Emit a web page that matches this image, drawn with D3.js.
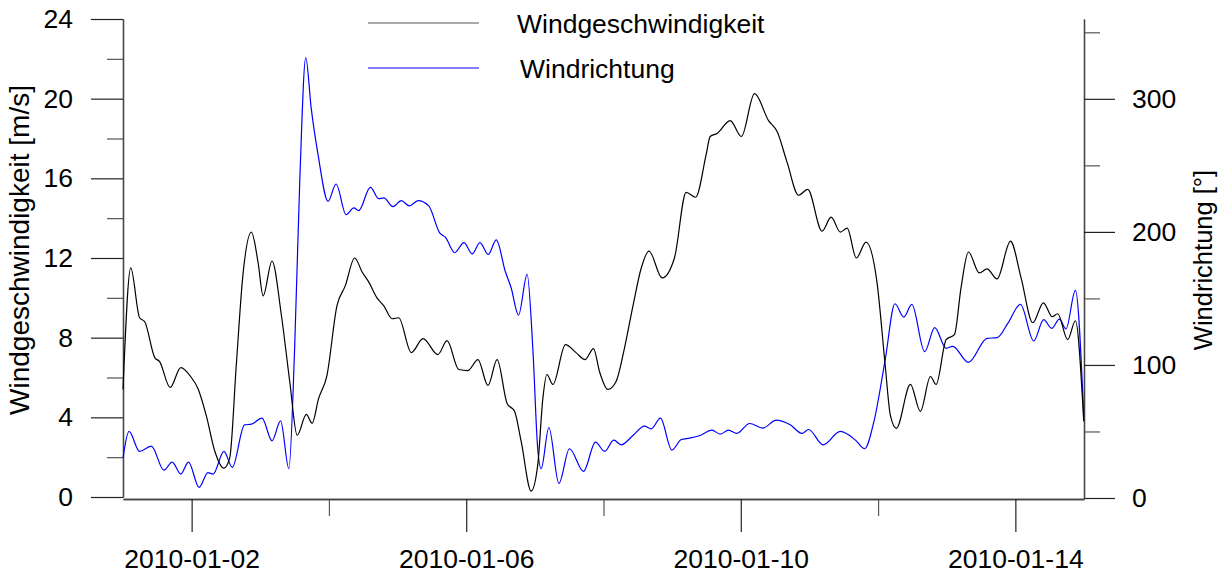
<!DOCTYPE html>
<html lang="de">
<head>
<meta charset="utf-8">
<title>Wind</title>
<script src="https://d3js.org/d3.v7.min.js"></script>
<style>
  body { margin: 0; background: #fff; }
  text { font-family: "Liberation Sans", Arial, sans-serif; fill: #000; }
</style>
</head>
<body>
<div id="chart"></div>
<script>

// hours after 2010-01-01 00:00 and the values
var speedHours = [0, 2.7, 5.8, 7.6, 11.1, 12.8, 16.5, 20.2, 23.9, 26.2, 29.1, 32.1, 35.3, 37.3, 39.6, 41.9, 44.9, 47.2, 49.0, 52.1,
  55.4, 58.3, 60.9, 64.1, 66.1, 68.4, 71.3, 74.8, 77.7, 81.0, 83.6, 85.9, 88.8, 91.2, 94.1, 96.4, 100.8, 104.9, 110.1, 113.3,
  117.4, 120.6, 124.1, 127.6, 130.8, 134.3, 136.9, 139.2, 142.7, 145.0, 146.8, 148.2, 150.3, 154.7, 158.4, 161.6, 164.5, 166.6, 169.5, 172.4,
  175.3, 178.3, 181.2, 183.9, 188.5, 192.8, 196.9, 200.2, 203.9, 205.3, 207.7, 212.3, 216.2, 220.8, 225.7, 228.7, 232.2, 236.2, 239.4, 244.4,
  247.6, 250.8, 253.2, 256.4, 259.8, 263.6, 266.5, 268.3, 270.4, 275.3, 278.8, 282.3, 284.3, 287.8, 290.7, 293.0, 295.6, 299.4, 302.1, 305.6,
  310.3, 314.0, 318.1, 321.8, 324.9, 326.8, 330.3, 333.0, 335.9];
var speedValues = [5.4, 11.5, 9.0, 8.8, 7.0, 6.8, 5.5, 6.5, 6.0, 5.45, 4.1, 2.3, 1.45, 1.95, 6.6, 11.1, 13.3, 11.8, 10.1, 11.85,
  9.1, 5.8, 3.1, 4.15, 3.7, 4.95, 6.1, 9.6, 10.6, 12.0, 11.3, 10.8, 10.0, 9.6, 8.95, 9.0, 7.25, 7.95, 7.15, 7.85,
  6.4, 6.35, 6.9, 5.6, 6.9, 4.7, 4.3, 2.8, 0.3, 1.6, 4.95, 6.15, 5.65, 7.65, 7.25, 6.9, 7.45, 6.3, 5.4, 5.8,
  7.45, 9.6, 11.5, 12.35, 11.0, 12.0, 15.3, 15.05, 17.2, 18.1, 18.25, 18.9, 18.1, 20.25, 18.9, 18.35, 16.8, 15.15, 15.45, 13.35,
  14.05, 13.3, 13.5, 12.0, 12.8, 10.8, 6.6, 4.1, 3.45, 5.65, 4.3, 6.05, 5.65, 7.9, 8.15, 10.5, 12.3, 11.25, 11.45, 10.95,
  12.85, 11.0, 8.75, 9.75, 9.05, 9.2, 7.9, 8.85, 3.8];

var dirHours = [0, 2.1, 5.8, 9.9, 14.3, 17.2, 20.2, 22.9, 26.6, 29.7, 31.5, 35.3, 38.2, 42.5, 44.9, 48.6, 52.1, 55.1, 58.0, 60.0,
  61.8, 63.9, 65.8, 68.2, 71.7, 74.5, 78.0, 80.7, 82.4, 86.5, 89.4, 91.2, 94.4, 97.3, 100.1, 103.2, 106.9, 110.8, 112.7, 116.0,
  119.2, 122.1, 124.8, 127.7, 130.5, 133.7, 135.7, 138.3, 141.3, 143.3, 145.0, 146.2, 148.9, 152.4, 156.1, 161.0, 165.2, 168.4, 171.6, 174.2,
  178.3, 182.3, 184.7, 187.9, 191.9, 195.2, 198.1, 201.8, 205.9, 208.8, 211.7, 214.6, 219.1, 223.7, 228.4, 233.3, 237.4, 239.7, 244.8, 250.8,
  256.1, 259.3, 262.5, 266.5, 269.9, 273.0, 275.8, 280.3, 283.8, 287.8, 290.1, 295.6, 302.1, 305.6, 309.3, 313.8, 318.4, 321.9, 324.7, 327.4,
  329.7, 333.0, 335.9];
var dirValues = [30, 50, 35, 39, 21, 27, 18, 27, 8, 19, 18, 35, 23, 55, 55.5, 60, 43, 58, 22, 112,
  238, 331, 293, 258, 223, 236, 213, 218, 216, 233.5, 225, 225.5, 219, 223.5, 219.5, 223.5, 219.5, 199, 196, 184.5,
  192, 183.5, 192, 183, 194, 170, 158, 137.5, 168, 112, 37, 22, 53, 11, 37, 20, 42, 35, 43.5, 40,
  47, 54, 52, 60, 36, 44, 45, 47, 51, 48, 51, 48.5, 56, 52.5, 58.5, 55, 48.5, 51.5, 40, 50,
  43.5, 37, 57, 104, 146, 136, 145.5, 110, 128, 112.5, 114, 102, 120, 120.5, 131, 145.5, 118, 134, 127.5, 134.5,
  127, 156, 62];

var speedMajor = [0, 4, 8, 12, 16, 20, 24];
var speedMinor = [2, 6, 10, 14, 18, 22];
var dirMajor = [0, 100, 200, 300];
var dirMinor = [50, 150, 250, 350];
var dateMajor = ["2010-01-02", "2010-01-06", "2010-01-10", "2010-01-14"];
var dateMinor = ["2010-01-04", "2010-01-08", "2010-01-12"];

var seriesNames = ["Windgeschwindigkeit", "Windrichtung"];
var seriesColors = ["#000000", "#0000ff"];

// set the dimensions and margins of the graph
var margin = {top: 19, right: 141, bottom: 78, left: 123},
    width = 1225 - margin.left - margin.right,
    height = 575 - margin.top - margin.bottom;

var svg = d3.select("#chart")
  .append("svg")
    .attr("width", 1225)
    .attr("height", 575)
  .append("g")
    .attr("transform", "translate(" + margin.left + "," + margin.top + ")");

var parse = d3.utcParse("%Y-%m-%d");
var start = parse("2010-01-01");

var x = d3.scaleUtc()
    .domain([start, parse("2010-01-15")])
    .range([0, width]);
var yL = d3.scaleLinear().domain([0, 24]).range([height, 0]);
var yR = d3.scaleLinear().domain([0, 360]).range([height + 1, 0]);

var toDate = function(h) { return new Date(start.getTime() + h * 3600000); };

var styleAxis = function(g, col, fs) {
  g.select(".domain").attr("stroke", "#444").attr("stroke-width", 1.3);
  g.selectAll(".tick line").attr("stroke", col).attr("stroke-width", 1.2);
  g.selectAll(".tick text").style("font-size", fs || "26.5px").attr("fill", "#000");
};

// left axis
svg.append("g")
    .call(d3.axisLeft(yL).tickValues(speedMinor).tickSize(16).tickSizeOuter(0).tickFormat(""))
    .call(styleAxis, "#555");
svg.append("g")
    .call(d3.axisLeft(yL).tickValues(speedMajor).tickSize(32).tickSizeOuter(0).tickPadding(18))
    .call(styleAxis, "#222");

// right axis
svg.append("g")
    .attr("transform", "translate(" + width + ",0)")
    .call(d3.axisRight(yR).tickValues(dirMinor).tickSize(16).tickSizeOuter(0).tickFormat(""))
    .call(styleAxis, "#555");
svg.append("g")
    .attr("transform", "translate(" + width + ",0)")
    .call(d3.axisRight(yR).tickValues(dirMajor).tickSize(31).tickSizeOuter(0).tickPadding(17))
    .call(styleAxis, "#222");

// bottom axis
svg.append("g")
    .attr("transform", "translate(0," + (height + 2) + ")")
    .call(d3.axisBottom(x).tickValues(dateMinor.map(parse)).tickSize(17).tickSizeOuter(0).tickFormat(""))
    .call(styleAxis, "#555");
svg.append("g")
    .attr("transform", "translate(0," + (height + 2) + ")")
    .call(d3.axisBottom(x).tickValues(dateMajor.map(parse)).tickSize(33).tickSizeOuter(0)
            .tickPadding(17).tickFormat(d3.utcFormat("%Y-%m-%d")))
    .call(styleAxis, "#222", "26.5px");

// axis titles
svg.append("text")
    .attr("transform", "translate(" + (-94) + "," + (height / 2 - 8) + ") rotate(-90)")
    .attr("text-anchor", "middle")
    .style("font-size", "28px")
    .text("Windgeschwindigkeit [m/s]");
svg.append("text")
    .attr("transform", "translate(" + (width + 128) + "," + (height / 2 + 2) + ") rotate(-90)")
    .attr("text-anchor", "middle")
    .style("font-size", "25.5px")
    .text("Windrichtung [°]");

// the lines
var lineL = d3.line()
    .x(function(d) { return x(toDate(d[0])); })
    .y(function(d) { return yL(d[1]); })
    .curve(d3.curveMonotoneX);
var lineR = d3.line()
    .x(function(d) { return x(toDate(d[0])); })
    .y(function(d) { return yR(d[1]); })
    .curve(d3.curveMonotoneX);

svg.append("path")
    .datum(d3.zip(dirHours, dirValues))
    .attr("fill", "none")
    .attr("stroke", seriesColors[1])
    .attr("stroke-width", 1.2)
    .attr("d", lineR);
svg.append("path")
    .datum(d3.zip(speedHours, speedValues))
    .attr("fill", "none")
    .attr("stroke", seriesColors[0])
    .attr("stroke-width", 1.2)
    .attr("d", lineL);

// legend
var legend = svg.append("g").attr("transform", "translate(245,4)");
seriesNames.forEach(function(n, i) {
  legend.append("line")
      .attr("x1", 0).attr("x2", 111)
      .attr("y1", i * 45).attr("y2", i * 45)
      .attr("stroke", i == 0 ? "#555" : seriesColors[1])
      .attr("stroke-width", 1.2);
  legend.append("text")
      .attr("x", 149 + i * 3)
      .attr("y", i * 45 + 10)
      .style("font-size", "26.5px")
      .text(n);
});

</script>
</body>
</html>
